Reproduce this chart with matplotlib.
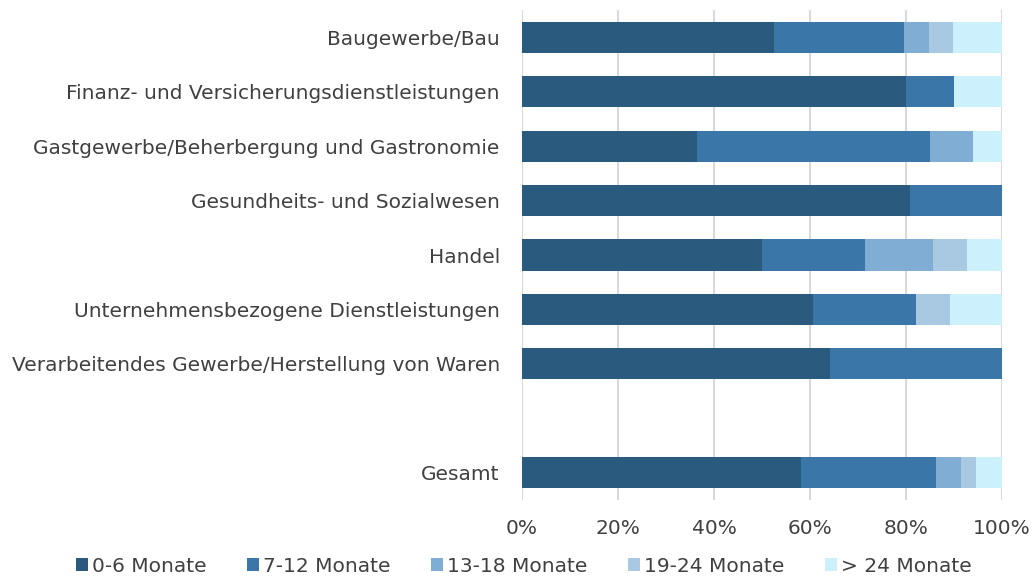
import matplotlib.pyplot as plt
import numpy as np

plt.rcParams['font.family'] = ['DejaVu Sans']

categories = [
    "Baugewerbe/Bau",
    "Finanz- und Versicherungsdienstleistungen",
    "Gastgewerbe/Beherbergung und Gastronomie",
    "Gesundheits- und Sozialwesen",
    "Handel",
    "Unternehmensbezogene Dienstleistungen",
    "Verarbeitendes Gewerbe/Herstellung von Waren",
    "",
    "Gesamt",
]
series = ["0-6 Monate", "7-12 Monate", "13-18 Monate", "19-24 Monate", "> 24 Monate"]

m0_6   = [52.4, 80.0, 36.4, 80.8, 50.0, 60.7, 64.1, 0, 58.2]
m7_12  = [27.1, 10.0, 48.5, 19.2, 21.4, 21.4, 35.9, 0, 28.0]
m13_18 = [5.2,  0.0,  9.1,  0.0,  14.3, 0.0,  0.0,  0, 5.2]
m19_24 = [5.0,  0.0,  0.0,  0.0,  7.1,  7.1,  0.0,  0, 3.2]
m24    = [10.3, 10.0, 6.0,  0.0,  7.2,  10.8, 0.0,  0, 5.4]

colors = ["#2a5a7e", "#3a77a8", "#7fadd4", "#a9c8e2", "#ccf0fc"]

fig = plt.figure(figsize=(10.33, 5.77), dpi=100)
ax = fig.add_axes([0.5053, 0.1334, 0.4647, 0.8493])

y = np.arange(len(categories))
left = np.zeros(len(categories))
for name, vals, c in zip(series, [m0_6, m7_12, m13_18, m19_24, m24], colors):
    vals = np.array(vals) / 100
    ax.barh(y, vals, left=left, height=0.57, color=c, label=name,
            linewidth=0, zorder=3)
    left += vals

ax.set_ylim(len(categories) - 0.5, -0.5)
ax.set_xlim(0, 1)
ax.set_yticks(y)
ax.set_yticklabels(categories, fontsize=14.5, color="#404040")
ax.set_xticks(np.linspace(0, 1, 6))
ax.set_xticklabels([f"{int(v)}%" for v in np.linspace(0, 100, 6)], fontsize=14.5, color="#404040")
ax.tick_params(axis="both", length=0)
ax.tick_params(axis="y", pad=16)
ax.tick_params(axis="x", pad=14)
ax.grid(axis="x", color="#d9d9d9", linewidth=1.5, zorder=0)
for s in ax.spines.values():
    s.set_visible(False)

ax.legend(loc="center", bbox_to_anchor=(0.507, 0.019), ncol=5, frameon=False,
          fontsize=14.5, handlelength=0.6, handleheight=0.6, handletextpad=0.2,
          columnspacing=2.0, labelcolor="#404040",
          bbox_transform=fig.transFigure)

fig.savefig("out.png", dpi=100)
